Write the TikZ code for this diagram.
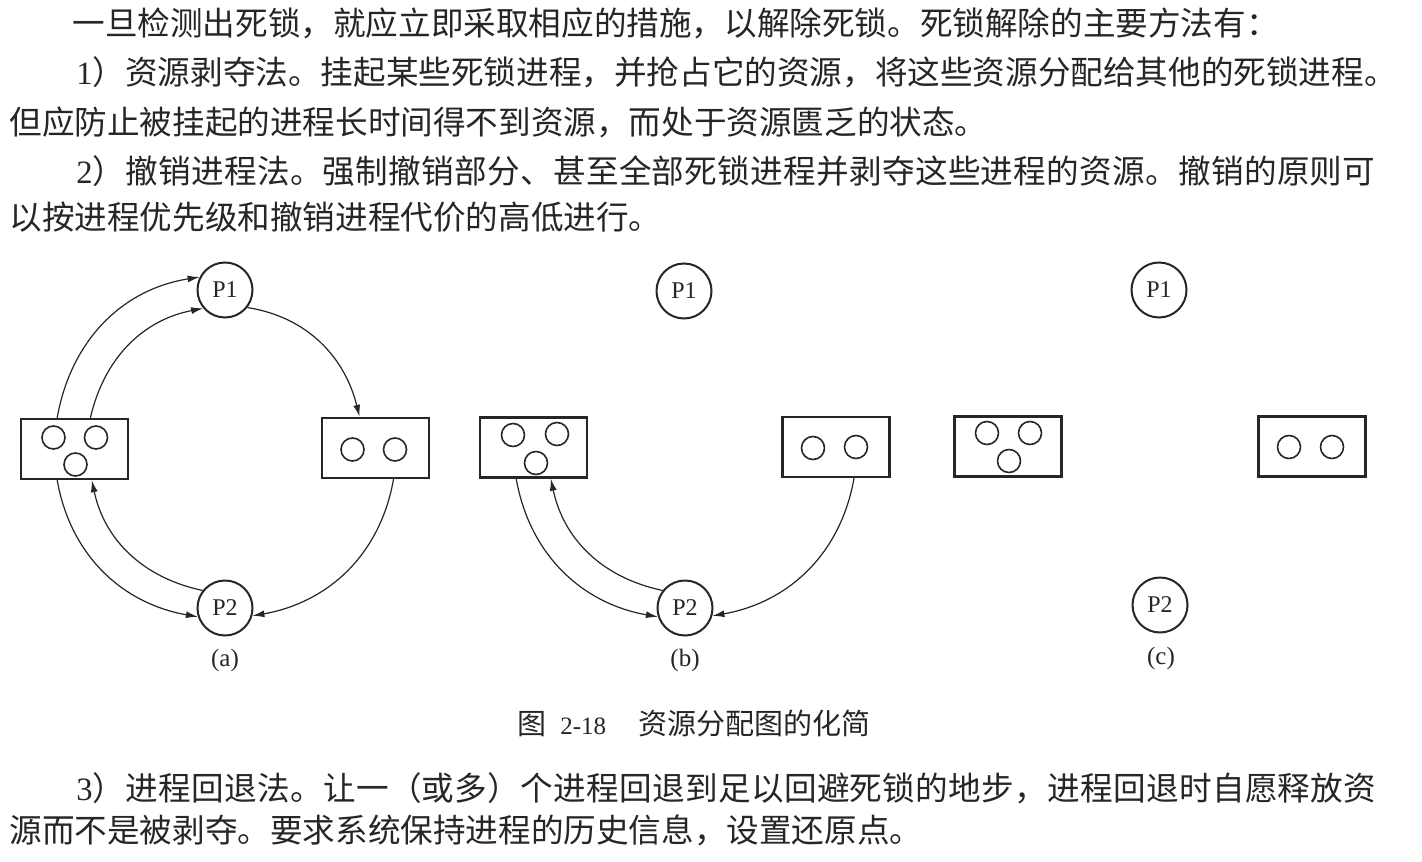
\documentclass[tikz,border=0pt]{standalone}
\usepackage{fontspec}
\setmainfont{Liberation Serif}
\newfontfamily\cn{Noto Sans CJK SC}
\usepackage{xcolor}
\usetikzlibrary{
    arrows.meta,
    positioning
}
\ExplSyntaxOn
\NewDocumentCommand\spreadchars{m}{\tl_map_inline:nn{#1}{##1\hskip 0pt plus 1fil}\unskip}
\ExplSyntaxOff
\colorlet{ink}{black!85}
\tikzset{
    proc/.style={circle, draw=ink, line width=1pt, minimum size=27.5pt, inner sep=0pt,
        text=ink, font=\fontsize{12}{12}\selectfont},
    res/.style={rectangle, draw=ink, line width=1.2pt, minimum width=53.5pt, minimum height=30pt, inner sep=0pt},
    unit/.style={circle, draw=ink, line width=0.8pt, minimum size=11.5pt, inner sep=0pt},
    link/.style={draw=ink, line width=0.6pt, -{Latex[length=6pt, width=3.5pt]}},
    txt/.style={anchor=west, inner sep=0pt, text=ink, font=\fontsize{16.3}{20}\selectfont},
    sub/.style={inner sep=0pt, text=ink, font=\fontsize{12.5}{14}\selectfont}
}

\begin{document}
\begin{tikzpicture}[x=0.5pt, y=0.5pt]
    \path[use as bounding box, fill=white] (0, 0) rectangle (1422, -861);

    % text above the figure
    \node[txt] (l1) at (72, -23.5) {\cn 一旦检测出死锁，就应立即采取相应的措施，以解除死锁。死锁解除的主要方法有：};
    \node[txt] (l2) at (76, -72) {1{\cn ）资源剥夺法。挂起某些死锁进程，并抢占它的资源，将这些资源分配给其他的死锁进程。}};
    \node[txt] (l3) at (9, -122) {\cn 但应防止被挂起的进程长时间得不到资源，而处于资源匮乏的状态。};
    \node[txt] (l4) at (76, -171.5) {\hbox to 649.5pt{2{\cn\spreadchars{）撤销进程法。强制撤销部分、甚至全部死锁进程并剥夺这些进程的资源。撤销的原则可}}}};
    \node[txt] (l5) at (9, -217) {\cn 以按进程优先级和撤销进程代价的高低进行。};

    % (a)
    \node[proc] (p1a) at (225, -290) {P1};
    \node[proc] (p2a) at (225, -608) {P2};
    \node[res] (r1a) at (74.5, -449) {};
    \node[res] (r2a) at (375.5, -448) {};
    \node[unit] (r1a1) at (53.5, -437.5) {};
    \node[unit] (r1a2) at (96, -437.5) {};
    \node[unit] (r1a3) at (75.5, -464.5) {};
    \node[unit] (r2a1) at (352.5, -449.5) {};
    \node[unit] (r2a2) at (395, -449.5) {};

    \draw[link] (r1a.119) to[out=80, in=189] (p1a.153);
    \draw[link] (r1a.63) to[out=77, in=191] (p1a.220);
    \draw[link] (p1a.322) to[out=-9, in=104] (r2a.117);
    \draw[link] (r2a.-60) to[out=-100, in=10] (p2a.-16);
    \draw[link] (r1a.241) to[out=-80, in=170] (p2a.198);
    \draw[link] (p2a.142) to[out=168, in=-78] (r1a.299);
    \node[sub] (capa) at (225, -660) {(a)};

    % (b)
    \node[proc] (p1b) at (684, -291) {P1};
    \node[proc] (p2b) at (685, -608) {P2};
    \node[res] (r1b) at (533.5, -447.5) {};
    \node[res] (r2b) at (836, -447) {};
    \node[unit] (r1b1) at (513, -435) {};
    \node[unit] (r1b2) at (557, -434) {};
    \node[unit] (r1b3) at (536, -463) {};
    \node[unit] (r2b1) at (813, -448) {};
    \node[unit] (r2b2) at (856, -447) {};

    \draw[link] (r1b.241) to[out=-80, in=170] (p2b.198);
    \draw[link] (p2b.142) to[out=168, in=-78] (r1b.299);
    \draw[link] (r2b.-60) to[out=-100, in=10] (p2b.-16);
    \node[sub] (capb) at (685, -660) {(b)};

    % (c)
    \node[proc] (p1c) at (1159, -290) {P1};
    \node[proc] (p2c) at (1160, -605) {P2};
    \node[res] (r1c) at (1008, -446.5) {};
    \node[res] (r2c) at (1312, -446.5) {};
    \node[unit] (r1c1) at (987, -433) {};
    \node[unit] (r1c2) at (1030, -433) {};
    \node[unit] (r1c3) at (1009, -461) {};
    \node[unit] (r2c1) at (1289, -447) {};
    \node[unit] (r2c2) at (1332, -447) {};
    \node[sub] (capc) at (1161, -658) {(c)};

    % caption and text below
    \node[sub, anchor=west] (cap) at (517, -723) {{\cn\fontsize{14.5}{16}\selectfont 图}\hspace{7pt}2-18\hspace{16pt}{\cn\fontsize{14.5}{16}\selectfont 资源分配图的化简}};
    \node[txt] (l6) at (76, -788) {\hbox to 650pt{3{\cn\spreadchars{）进程回退法。让一（或多）个进程回退到足以回避死锁的地步，进程回退时自愿释放资}}}};
    \node[txt] (l7) at (9, -830) {\cn 源而不是被剥夺。要求系统保持进程的历史信息，设置还原点。};
\end{tikzpicture}
\end{document}
